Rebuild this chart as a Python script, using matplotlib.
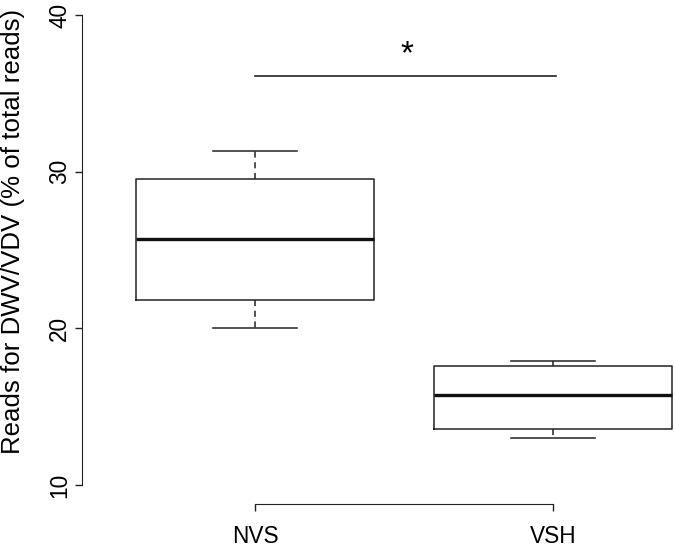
import matplotlib
matplotlib.use('Agg')
import matplotlib.pyplot as plt

groups = ['NVS', 'VSH']
whislo = [20.0, 13.0]
q1 = [21.8, 13.57]
med = [25.69, 15.74]
q3 = [29.56, 17.63]
whishi = [31.35, 17.93]
bracket_y = 36.13
star_y = 37.45

plt.rcParams['font.family'] = ['Liberation Sans', 'DejaVu Sans']

fig = plt.figure(figsize=(6.75, 5.47), dpi=100)
# R-style plot region, right/top edges cropped like the original
ax = fig.add_axes([82.2 / 675, 43 / 547, 643.6 / 675, 507.7 / 547])

stats = []
for i in range(len(groups)):
    stats.append({'label': groups[i], 'whislo': whislo[i], 'q1': q1[i], 'med': med[i],
                  'q3': q3[i], 'whishi': whishi[i], 'fliers': []})

ax.bxp(stats, positions=[1, 2], widths=0.8, capwidths=0.285, showfliers=False,
       boxprops=dict(color='#222222', linewidth=1.1),
       whiskerprops=dict(color='#222222', linewidth=1.1, linestyle=(0, (4, 3))),
       capprops=dict(color='#222222', linewidth=1.1),
       medianprops=dict(color='#111111', linewidth=2.4))

ax.set_xlim(0.42, 2.58)
ax.set_ylim(8.8, 41.2)

for s in ['top', 'right']:
    ax.spines[s].set_visible(False)
ax.spines['left'].set_bounds(10, 40)
ax.spines['bottom'].set_bounds(1, 2)
ax.spines['left'].set_color('#222222')
ax.spines['bottom'].set_color('#222222')

ax.set_yticks([10, 20, 30, 40])
ax.set_yticklabels(['10', '20', '30', '40'], rotation=90, va='center')
ax.set_xticks([1, 2])
ax.set_xticklabels(groups)
ax.tick_params(axis='both', direction='out', length=5, width=1, color='#222222',
               labelsize=16.3)
ax.tick_params(axis='y', pad=3)
ax.tick_params(axis='x', pad=10)
fig.text(13 / 675, 1 - 231 / 547, 'Reads for DWV/VDV (% of total reads)', fontsize=18.6,
         rotation=90, ha='center', va='center')

ax.plot([1, 2.01], [bracket_y, bracket_y], color='#222222', linewidth=1.2)
ax.text(1.51, star_y, '*', ha='center', va='center', fontsize=24)

fig.savefig('out.png', dpi=100)
